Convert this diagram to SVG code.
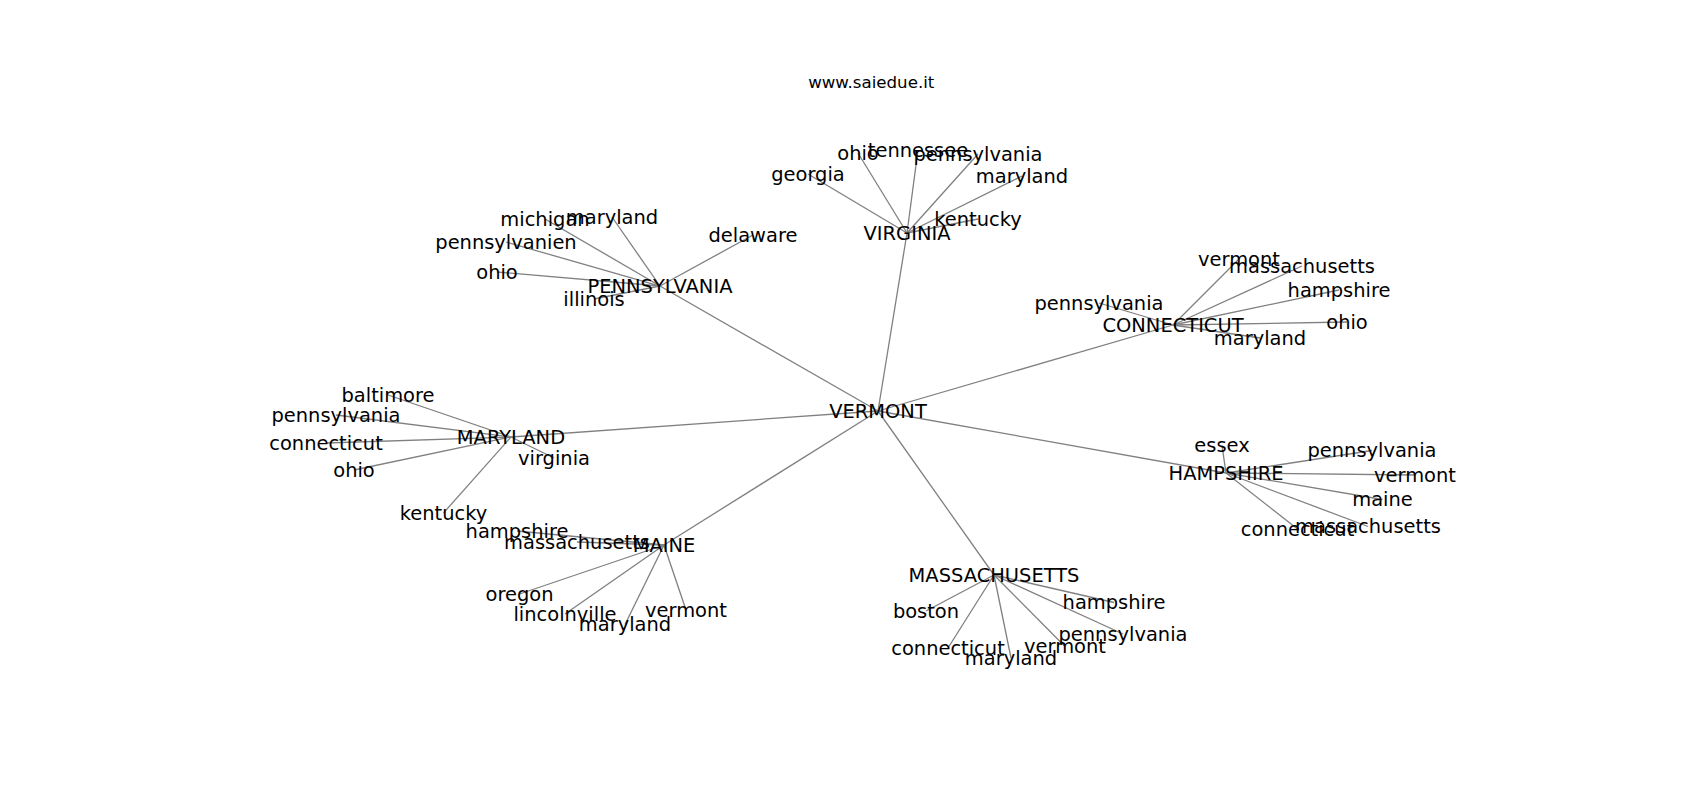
<svg xmlns="http://www.w3.org/2000/svg" width="1700" height="800" viewBox="0 0 1700 800">
<style>
.e{stroke:#808080;stroke-width:1.3;fill:none}
text{font-family:"DejaVu Sans","Liberation Sans",sans-serif;font-size:19.44px;fill:#000;text-anchor:middle}
.t{font-size:16.67px}
</style>
<rect width="1700" height="800" fill="#fff"/>
<text class="t" x="871.25" y="87.7">www.saiedue.it</text>
<g id="edges" class="e">
<line x1="878" y1="411" x2="907" y2="233"/>
<line x1="878" y1="411" x2="660" y2="286"/>
<line x1="878" y1="411" x2="1173" y2="325"/>
<line x1="878" y1="411" x2="511" y2="437"/>
<line x1="878" y1="411" x2="664" y2="545"/>
<line x1="878" y1="411" x2="994" y2="575"/>
<line x1="878" y1="411" x2="1226" y2="473"/>
<line x1="907" y1="233" x2="808" y2="174"/>
<line x1="907" y1="233" x2="858" y2="153"/>
<line x1="907" y1="233" x2="918" y2="150"/>
<line x1="907" y1="233" x2="978" y2="154"/>
<line x1="907" y1="233" x2="1022" y2="176"/>
<line x1="907" y1="233" x2="978" y2="219"/>
<line x1="660" y1="286" x2="545" y2="219"/>
<line x1="660" y1="286" x2="612" y2="217"/>
<line x1="660" y1="286" x2="506" y2="242"/>
<line x1="660" y1="286" x2="497" y2="272"/>
<line x1="660" y1="286" x2="594" y2="299"/>
<line x1="660" y1="286" x2="753" y2="235"/>
<line x1="1173" y1="325" x2="1239" y2="259"/>
<line x1="1173" y1="325" x2="1302" y2="266"/>
<line x1="1173" y1="325" x2="1339" y2="290"/>
<line x1="1173" y1="325" x2="1099" y2="303"/>
<line x1="1173" y1="325" x2="1347" y2="322"/>
<line x1="1173" y1="325" x2="1260" y2="338"/>
<line x1="511" y1="437" x2="388" y2="395"/>
<line x1="511" y1="437" x2="336" y2="415"/>
<line x1="511" y1="437" x2="326" y2="443"/>
<line x1="511" y1="437" x2="354" y2="470"/>
<line x1="511" y1="437" x2="554" y2="458"/>
<line x1="511" y1="437" x2="443.5" y2="513"/>
<line x1="664" y1="545" x2="517" y2="531"/>
<line x1="664" y1="545" x2="577" y2="542"/>
<line x1="664" y1="545" x2="519.5" y2="594"/>
<line x1="664" y1="545" x2="565" y2="614"/>
<line x1="664" y1="545" x2="625" y2="624.5"/>
<line x1="664" y1="545" x2="686" y2="610"/>
<line x1="994" y1="575" x2="926" y2="611"/>
<line x1="994" y1="575" x2="948" y2="648"/>
<line x1="994" y1="575" x2="1011" y2="658"/>
<line x1="994" y1="575" x2="1065" y2="646.5"/>
<line x1="994" y1="575" x2="1123" y2="634"/>
<line x1="994" y1="575" x2="1114" y2="602.5"/>
<line x1="1226" y1="473" x2="1222" y2="445.5"/>
<line x1="1226" y1="473" x2="1372" y2="450.5"/>
<line x1="1226" y1="473" x2="1415" y2="475"/>
<line x1="1226" y1="473" x2="1382.5" y2="499.5"/>
<line x1="1226" y1="473" x2="1368" y2="526.5"/>
<line x1="1226" y1="473" x2="1297.5" y2="529"/>
</g>
<g id="n-vermont"><text x="878" y="417.8">VERMONT</text></g>
<g id="n-virginia"><text x="907" y="239.8">VIRGINIA</text></g>
<g id="n-virginia-georgia"><text x="808" y="180.8">georgia</text></g>
<g id="n-virginia-ohio"><text x="858" y="159.8">ohio</text></g>
<g id="n-virginia-tennessee"><text x="918" y="156.8">tennessee</text></g>
<g id="n-virginia-pennsylvania"><text x="978" y="160.8">pennsylvania</text></g>
<g id="n-virginia-maryland"><text x="1022" y="182.8">maryland</text></g>
<g id="n-virginia-kentucky"><text x="978" y="225.8">kentucky</text></g>
<g id="n-pennsylvania"><text x="660" y="292.8">PENNSYLVANIA</text></g>
<g id="n-pennsylvania-michigan"><text x="545" y="225.8">michigan</text></g>
<g id="n-pennsylvania-maryland"><text x="612" y="223.8">maryland</text></g>
<g id="n-pennsylvania-pennsylvanien"><text x="506" y="248.8">pennsylvanien</text></g>
<g id="n-pennsylvania-ohio"><text x="497" y="278.8">ohio</text></g>
<g id="n-pennsylvania-illinois"><text x="594" y="305.8">illinois</text></g>
<g id="n-pennsylvania-delaware"><text x="753" y="241.8">delaware</text></g>
<g id="n-connecticut"><text x="1173" y="331.8">CONNECTICUT</text></g>
<g id="n-connecticut-vermont"><text x="1239" y="265.8">vermont</text></g>
<g id="n-connecticut-massachusetts"><text x="1302" y="272.8">massachusetts</text></g>
<g id="n-connecticut-hampshire"><text x="1339" y="296.8">hampshire</text></g>
<g id="n-connecticut-pennsylvania"><text x="1099" y="309.8">pennsylvania</text></g>
<g id="n-connecticut-ohio"><text x="1347" y="328.8">ohio</text></g>
<g id="n-connecticut-maryland"><text x="1260" y="344.8">maryland</text></g>
<g id="n-maryland"><text x="511" y="443.8">MARYLAND</text></g>
<g id="n-maryland-baltimore"><text x="388" y="401.8">baltimore</text></g>
<g id="n-maryland-pennsylvania"><text x="336" y="421.8">pennsylvania</text></g>
<g id="n-maryland-connecticut"><text x="326" y="449.8">connecticut</text></g>
<g id="n-maryland-ohio"><text x="354" y="476.8">ohio</text></g>
<g id="n-maryland-virginia"><text x="554" y="464.8">virginia</text></g>
<g id="n-maryland-kentucky"><text x="443.5" y="519.8">kentucky</text></g>
<g id="n-maine"><text x="664" y="551.8">MAINE</text></g>
<g id="n-maine-hampshire"><text x="517" y="537.8">hampshire</text></g>
<g id="n-maine-massachusetts"><text x="577" y="548.8">massachusetts</text></g>
<g id="n-maine-oregon"><text x="519.5" y="600.8">oregon</text></g>
<g id="n-maine-lincolnville"><text x="565" y="620.8">lincolnville</text></g>
<g id="n-maine-maryland"><text x="625" y="631.3">maryland</text></g>
<g id="n-maine-vermont"><text x="686" y="616.8">vermont</text></g>
<g id="n-massachusetts"><text x="994" y="581.8">MASSACHUSETTS</text></g>
<g id="n-massachusetts-boston"><text x="926" y="617.8">boston</text></g>
<g id="n-massachusetts-connecticut"><text x="948" y="654.8">connecticut</text></g>
<g id="n-massachusetts-maryland"><text x="1011" y="664.8">maryland</text></g>
<g id="n-massachusetts-vermont"><text x="1065" y="653.3">vermont</text></g>
<g id="n-massachusetts-pennsylvania"><text x="1123" y="640.8">pennsylvania</text></g>
<g id="n-massachusetts-hampshire"><text x="1114" y="609.3">hampshire</text></g>
<g id="n-hampshire"><text x="1226" y="479.8">HAMPSHIRE</text></g>
<g id="n-hampshire-essex"><text x="1222" y="452.3">essex</text></g>
<g id="n-hampshire-pennsylvania"><text x="1372" y="457.3">pennsylvania</text></g>
<g id="n-hampshire-vermont"><text x="1415" y="481.8">vermont</text></g>
<g id="n-hampshire-maine"><text x="1382.5" y="506.3">maine</text></g>
<g id="n-hampshire-massachusetts"><text x="1368" y="533.3">massachusetts</text></g>
<g id="n-hampshire-connecticut"><text x="1297.5" y="535.8">connecticut</text></g>
</svg>
